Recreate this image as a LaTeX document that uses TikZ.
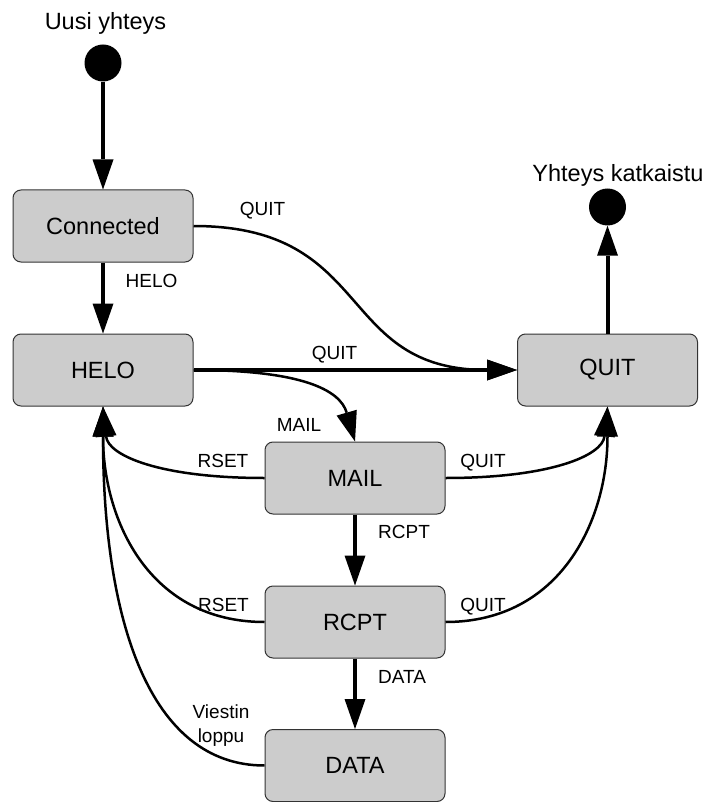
\documentclass[tikz,border=0pt]{standalone}
\usepackage{fontspec}
\setmainfont{Liberation Sans}
\usetikzlibrary{arrows.meta}
\newcommand\stboxfont{\fontsize{23.5}{28}\selectfont}
\newcommand\stedgefont{\fontsize{19}{23}\selectfont}
\definecolor{boxfill}{HTML}{CCCCCC}
\definecolor{boxline}{HTML}{333333}
\tikzset{
  state/.style={draw=boxline, fill=boxfill, rounded corners=8pt, minimum width=180pt,
    minimum height=72pt, inner sep=0pt, line width=1pt, font=\stboxfont},
  dot/.style={circle, fill=black, minimum size=37pt, inner sep=0pt},
  biglbl/.style={font=\stboxfont, inner sep=0pt, anchor=base},
  lbl/.style={font=\stedgefont, inner sep=0pt, anchor=base},
  sarrow/.style={line width=4pt, -{Triangle[length=30pt,width=21pt,line width=0pt]}},
  carrow/.style={line width=2.5pt, -{Triangle[length=30pt,width=21pt,line width=0pt]}},
}
\begin{document}
\begin{tikzpicture}[x=1pt,y=-1pt]
\useasboundingbox (0,0) rectangle (707,802);
% start / end
\node[dot] (start) at (103,63) {};
\node[biglbl] (tstart) at (105.5,30) {Uusi yhteys};
\node[dot] (endc) at (607.5,207) {};
\node[biglbl] (tend) at (618,182) {Yhteys katkaistu};
% states
\node[state] (conn) at (103,226) {Connected};
\node[state] (helo) at (103,370) {HELO};
\node[state] (quit) at (607.5,370) {QUIT};
\node[state] (mail) at (355,478) {MAIL};
\node[state] (rcpt) at (355,622) {RCPT};
\node[state] (data) at (355,765.5) {DATA};
% connectors
\draw[sarrow] (start) -- (conn);
\draw[sarrow] (conn) -- (helo);
\draw[carrow] (conn.east) .. controls +(182,0) and +(-182,0) .. (quit.west);
\draw[sarrow] (helo.east) -- (quit.west);
\draw[carrow] (helo.east) .. controls +(107,0) and +(-15,-52) .. (mail.north);
\draw[carrow] (mail.west) .. controls +(-105,0) and +(5,49) .. (helo.south);
\draw[carrow] (rcpt.west) .. controls +(-115,0) and +(0,114) .. (helo.south);
\draw[carrow] (data.west) .. controls +(-115,0) and +(0,214) .. (helo.south);
\draw[carrow] (mail.east) .. controls +(105,0) and +(-5,49) .. (quit.south);
\draw[carrow] (rcpt.east) .. controls +(115,0) and +(0,114) .. (quit.south);
\draw[sarrow] (mail) -- (rcpt);
\draw[sarrow] (rcpt) -- (data);
\draw[sarrow] (quit) -- (endc);
% labels
\node[lbl] (lq1) at (262.5,215) {QUIT};
\node[lbl] (lhelo) at (151.5,287) {HELO};
\node[lbl] (lq2) at (334.5,359) {QUIT};
\node[lbl] (lmail) at (299,431) {MAIL};
\node[lbl] (lr1) at (223,467) {RSET};
\node[lbl] (lq3) at (483,467) {QUIT};
\node[lbl, anchor=base west] (lrcpt) at (378,538) {RCPT};
\node[lbl] (lr2) at (223.5,611) {RSET};
\node[lbl] (lq4) at (483,611) {QUIT};
\node[lbl, anchor=base west] (ldata) at (378,683) {DATA};
\node[lbl] (lv1) at (221,718) {Viestin};
\node[lbl] (lv2) at (221,742) {loppu};
\end{tikzpicture}
\end{document}
